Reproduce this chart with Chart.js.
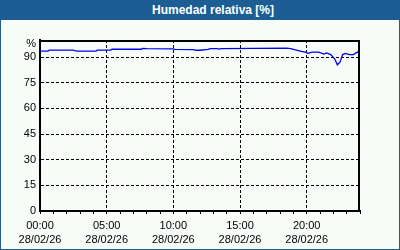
<!DOCTYPE html>
<html>
<head>
<meta charset="utf-8">
<script src="https://cdn.jsdelivr.net/npm/chart.js@4"></script>
<style>
  html, body { margin: 0; padding: 0; background: #fff; }
  #box { width: 400px; height: 250px; box-sizing: border-box; border: 1px solid #1c5e94; border-top: none; background: #f8fcf8; }
  #head { height: 20px; background: #1c5e94; color: #fff; font: bold 12px "Liberation Sans", Arial, sans-serif; line-height: 20px; text-align: center; padding-left: 26px; box-sizing: border-box; }
  #wrap { position: relative; width: 398px; height: 229px; }
</style>
</head>
<body>
<div id="box">
  <div id="head">Humedad relativa [%]</div>
  <div id="wrap"><canvas id="chart"></canvas></div>
</div>
<script>
// Humedad relativa, 28/02/26 (hours since 00:00)
const hours = [0, 0.6, 0.7, 2.5, 2.6, 2.8, 4.2, 4.3, 5.3, 5.4, 7.6, 7.7, 8.0, 10.0, 10.1, 11.5, 11.7, 12.0, 12.6, 12.8, 13.3, 13.4, 13.6, 18.5, 18.8, 19.3, 19.6, 19.9, 20.1, 20.4, 20.9, 21.3, 21.5, 21.8, 22.1, 22.3, 22.5, 22.7, 22.9, 23.2, 23.5, 23.8, 24.0];
const humidity = [93.5, 93.5, 94.1, 94.1, 93.8, 93.5, 93.5, 94.1, 94.1, 94.6, 94.6, 95.1, 94.9, 94.8, 94.5, 94.4, 94.0, 94.0, 94.5, 95.0, 95.0, 94.7, 95.0, 95.2, 95.0, 94.0, 93.3, 92.9, 92.2, 92.9, 92.9, 91.8, 92.4, 91.5, 89.0, 85.5, 87.0, 91.5, 92.2, 91.5, 91.5, 92.9, 93.5];

const yTicks = [0, 15, 30, 45, 60, 75, 90];
const majorHours = [0, 5, 10, 15, 20];
const timeLabels = ['00:00', '05:00', '10:00', '15:00', '20:00'];
const dateLabel = '28/02/26';

const FONT = { family: '"Liberation Sans", Arial, sans-serif', size: 11, lineHeight: 1.3 };

// black frame round the plot area (top and right sides)
const frame = {
    id: 'frame',
    afterDraw(chart) {
        const { ctx, chartArea: a } = chart;
        ctx.save();
        ctx.strokeStyle = '#000';
        ctx.lineWidth = 2;
        ctx.beginPath();
        ctx.moveTo(a.left, a.top + 1);
        ctx.lineTo(a.right - 1, a.top + 1);
        ctx.lineTo(a.right - 1, a.bottom);
        ctx.stroke();
        ctx.restore();
    }
};

const ctx = document.getElementById('chart').getContext('2d');
const chart = new Chart(ctx, {
    type: 'line',
    data: {
        datasets: [{
            label: 'Humedad relativa',
            data: hours.map((h, i) => ({ x: h, y: humidity[i] })),
            borderColor: '#0000f0',
            borderWidth: 1.3,
            pointRadius: 0,
            tension: 0,
            fill: false
        }]
    },
    options: {
        responsive: true,
        maintainAspectRatio: false,
        animation: false,
        layout: { padding: { left: 0, right: 39, top: 20, bottom: 0 } },
        plugins: { legend: { display: false }, tooltip: { enabled: false } },
        scales: {
            x: {
                type: 'linear',
                min: 0,
                max: 24,
                afterBuildTicks: s => { s.ticks = Array.from({ length: 25 }, (_, i) => ({ value: i })); },
                afterFit: s => { s.height = 38; },
                ticks: {
                    autoSkip: false,
                    maxRotation: 0,
                    color: '#000',
                    font: FONT,
                    padding: 5,
                    callback: v => {
                        const k = majorHours.indexOf(v);
                        return k >= 0 ? [timeLabels[k], dateLabel] : '';
                    }
                },
                grid: {
                    color: c => (c.tick && c.tick.value % 5 === 0 && c.tick.value > 0 && c.tick.value < 24) ? '#000' : 'rgba(0,0,0,0)',
                    tickColor: '#000',
                    tickLength: 3,
                    lineWidth: 1
                },
                border: { color: '#000', width: 2, dash: [3, 2] }
            },
            y: {
                min: 0,
                max: 100,
                afterBuildTicks: s => { s.ticks = yTicks.concat([97.5]).map(v => ({ value: v })); },
                afterFit: s => { s.width = 39; },
                ticks: {
                    color: '#000',
                    font: FONT,
                    padding: 4,
                    callback: v => v === 97.5 ? '%' : String(v)
                },
                grid: {
                    color: c => (c.tick && c.tick.value > 0 && c.tick.value < 95) ? '#000' : 'rgba(0,0,0,0)',
                    drawTicks: false,
                    lineWidth: 1
                },
                border: { color: '#000', width: 2, dash: [3, 2] }
            }
        }
    },
    plugins: [frame]
});
</script>
</body>
</html>
